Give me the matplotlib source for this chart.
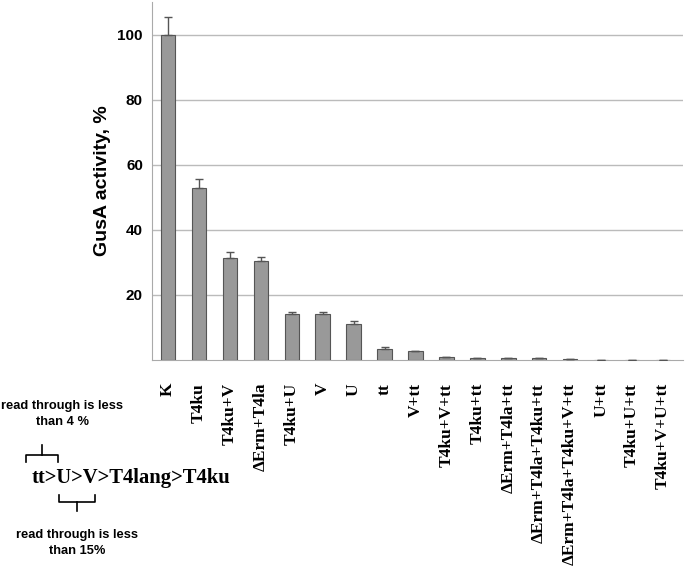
import matplotlib
matplotlib.use("Agg")
import matplotlib.pyplot as plt

categories = ["K", "T4ku", "T4ku+V", "ΔErm+T4la", "T4ku+U", "V", "U", "tt", "V+tt",
              "T4ku+V+tt", "T4ku+tt", "ΔErm+T4la+tt", "ΔErm+T4la+T4ku+tt",
              "ΔErm+T4la+T4ku+V+tt", "U+tt", "T4ku+U+tt", "T4ku+V+U+tt"]
values = [100, 53, 31.3, 30.5, 14.1, 14.1, 11.1, 3.5, 2.7, 1.0, 0.7, 0.5, 0.5, 0.3, 0.1, 0.1, 0.1]
errors = [5.5, 2.7, 1.9, 1.3, 0.8, 0.8, 0.9, 0.6, 0.0, 0.0, 0.0, 0.0, 0.0, 0.0, 0.0, 0.0, 0.0]
yticks = [20, 40, 60, 80, 100]

fig = plt.figure(figsize=(6.85, 5.71), dpi=100)
ax = fig.add_axes([152/685, 1-360/571, 531/685, 358/571])

x = list(range(len(categories)))
ax.bar(x, values, width=0.47, color="#999999", edgecolor="#555555", linewidth=0.8,
       yerr=[[0]*len(errors), errors],
       error_kw=dict(ecolor="#555555", elinewidth=1.0, capsize=3, capthick=1.0),
       zorder=3)
ax.set_xlim(-0.52, len(categories) - 0.35)
ax.set_ylim(0, 110)
ax.set_yticks(yticks)
ax.set_yticklabels([str(v) for v in yticks], fontfamily="Liberation Sans", fontweight="bold", fontsize=11)
ax.yaxis.grid(True, color="#bbbbbb", linewidth=1.0, zorder=0)
ax.tick_params(axis="y", length=0, pad=6.5)
ax.tick_params(axis="x", length=0, pad=16.5)
ax.set_xticks(x)
ax.set_xticklabels(categories, rotation=90, fontfamily="Liberation Serif", fontweight="bold", fontsize=12.5,
                   va="top", ha="center")
for s in ["top", "right"]:
    ax.spines[s].set_visible(False)
ax.spines["left"].set_color("#aaaaaa")
ax.spines["bottom"].set_color("#aaaaaa")
ax.set_ylabel("GusA activity, %", fontfamily="Liberation Sans", fontweight="bold", fontsize=14, labelpad=5)

# annotations
fig.text(131/685, 1-478/571, "tt>U>V>T4lang>T4ku", fontfamily="Liberation Serif", fontweight="bold",
         fontsize=14.9, ha="center", va="center")
fig.text(62/685, 1-414/571, "read through is less\nthan 4 %", fontfamily="Liberation Sans", fontweight="bold",
         fontsize=9.3, ha="center", va="center", linespacing=1.45)
fig.text(77/685, 1-543/571, "read through is less\nthan 15%", fontfamily="Liberation Sans", fontweight="bold",
         fontsize=9.3, ha="center", va="center", linespacing=1.45)

def fx(px):
    return px/685
def fy(py):
    return 1 - py/571

# upper brace
fig.add_artist(plt.Line2D([fx(26), fx(26), fx(58), fx(58)], [fy(462), fy(455), fy(455), fy(462)],
                          color="black", linewidth=1.2))
fig.add_artist(plt.Line2D([fx(42), fx(42)], [fy(455), fy(445)], color="black", linewidth=1.2))
# lower brace
fig.add_artist(plt.Line2D([fx(59), fx(59), fx(95), fx(95)], [fy(495), fy(502), fy(502), fy(495)],
                          color="black", linewidth=1.2))
fig.add_artist(plt.Line2D([fx(77), fx(77)], [fy(502), fy(511)], color="black", linewidth=1.2))

fig.savefig("out.png", dpi=100)
